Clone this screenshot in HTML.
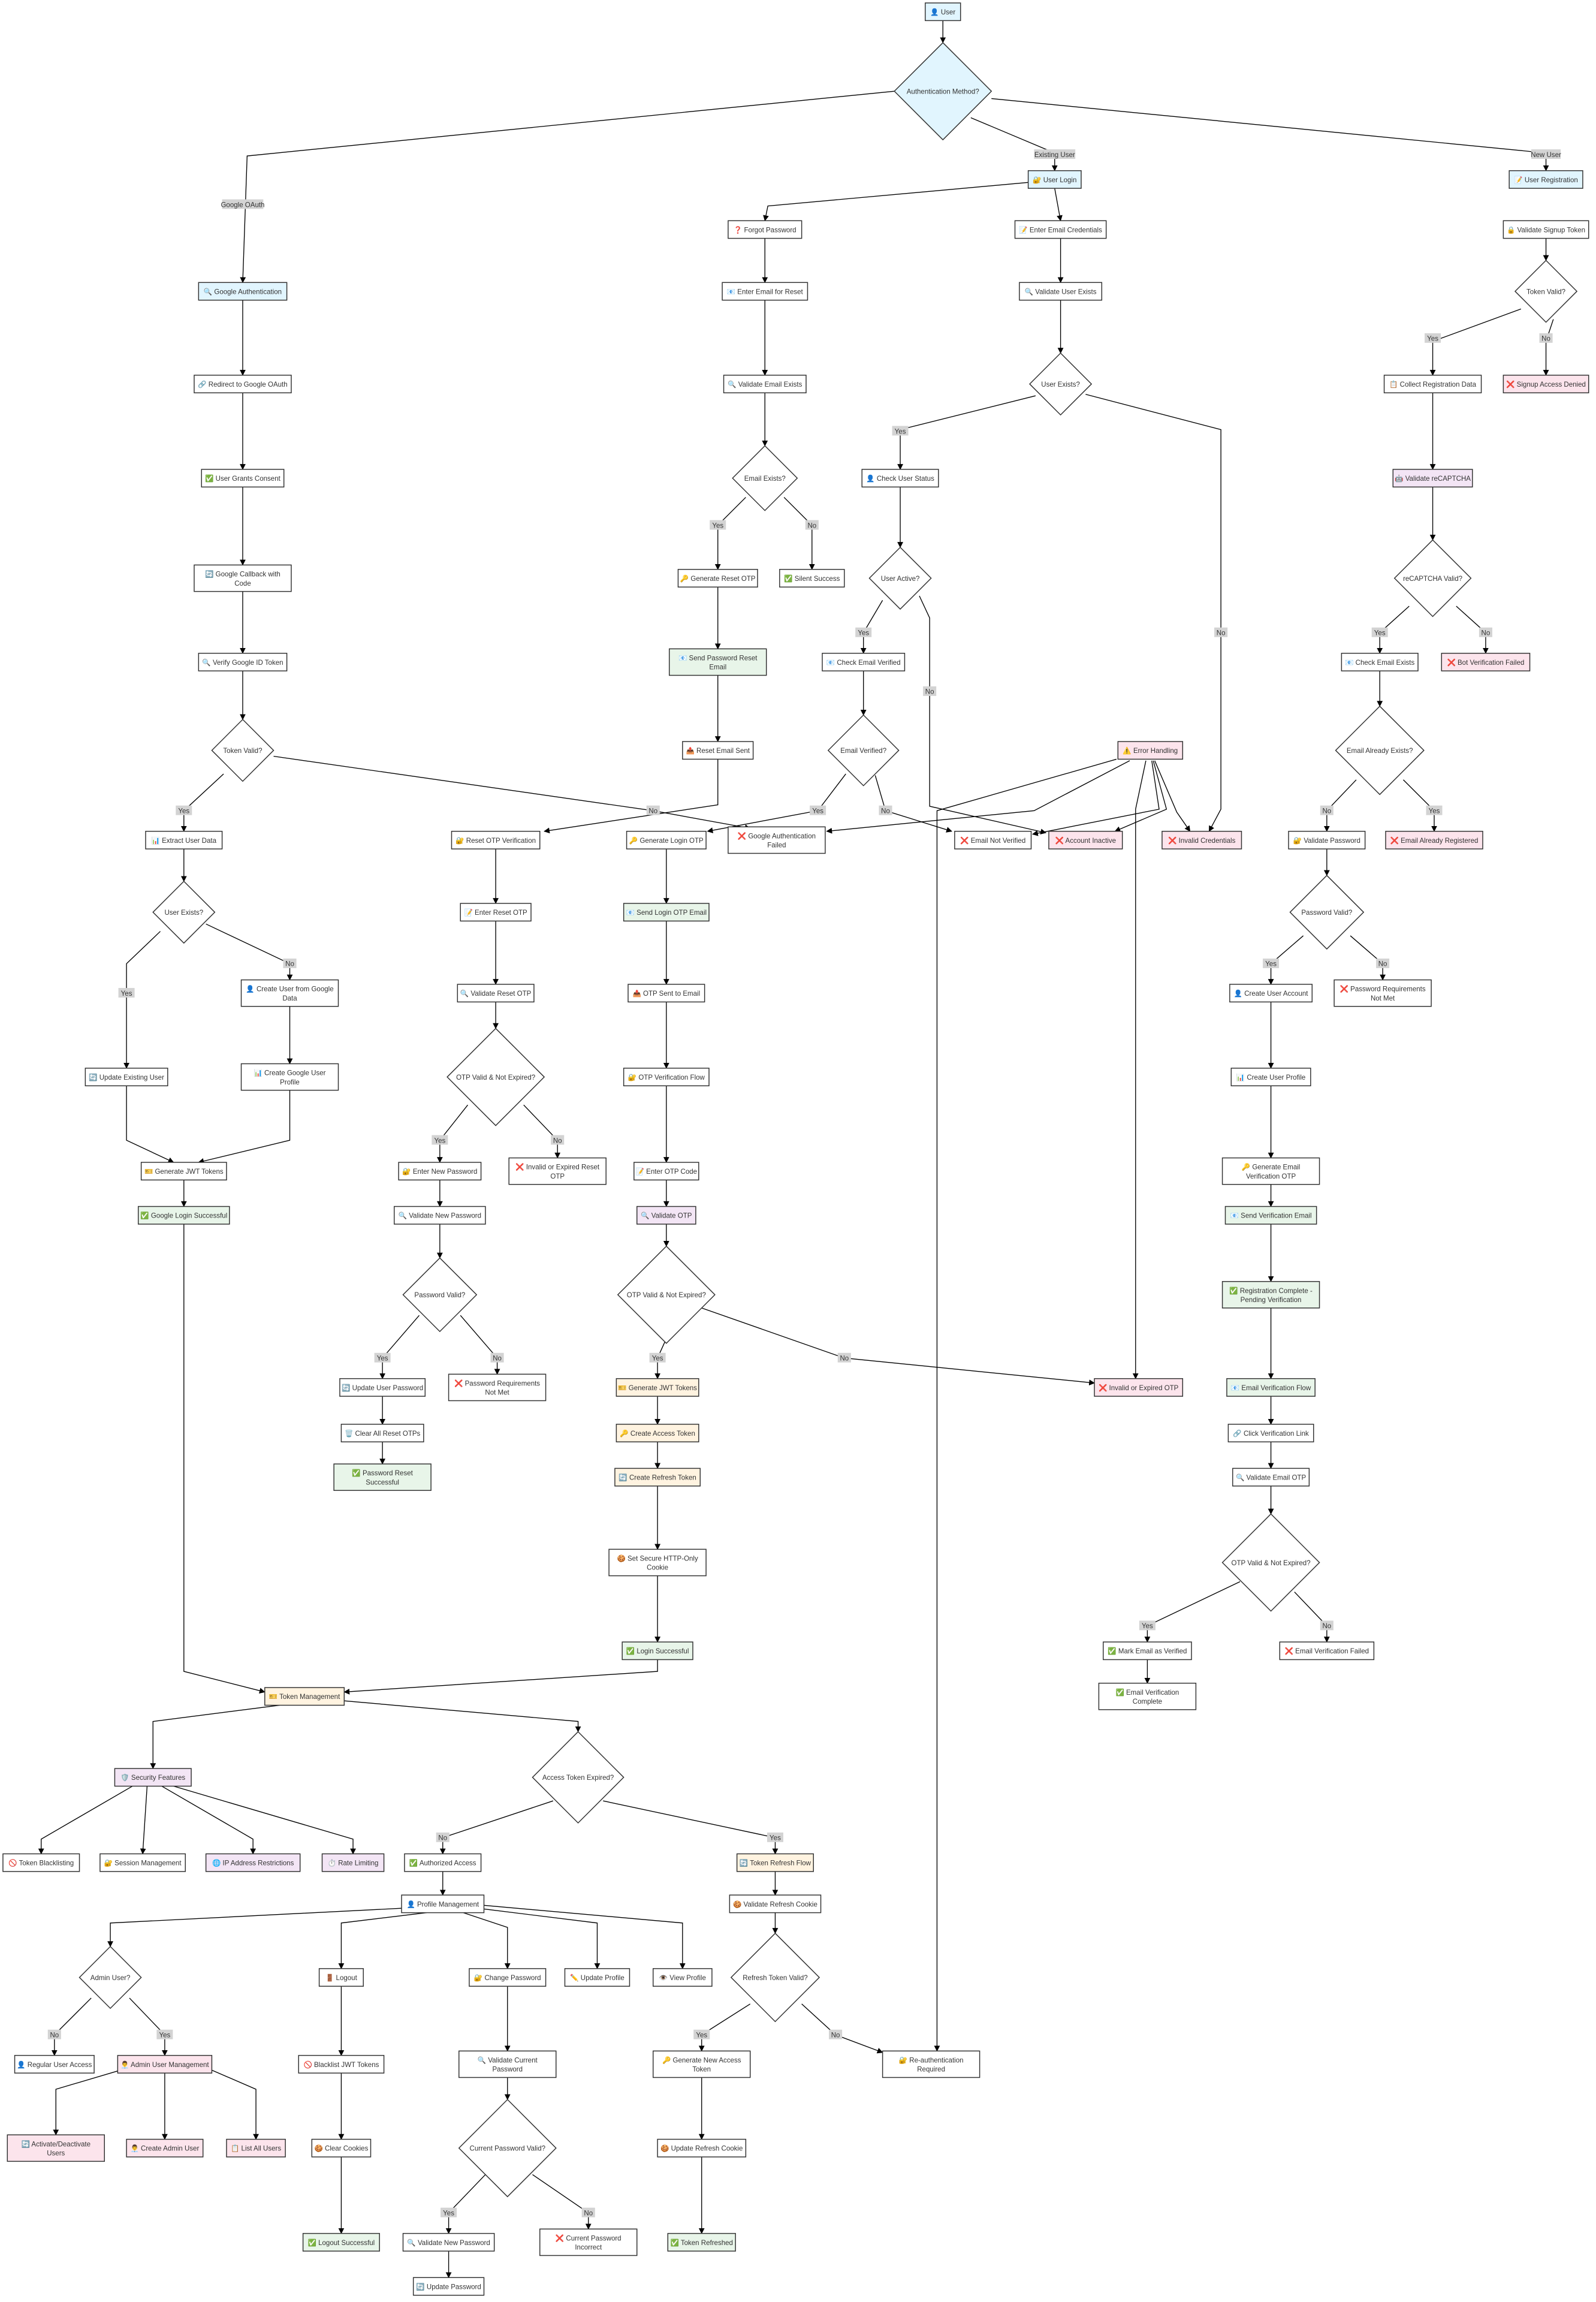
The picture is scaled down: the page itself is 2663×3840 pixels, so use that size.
<!DOCTYPE html>
<html><head><meta charset="utf-8"><style>
html,body{margin:0;padding:0;background:#fff}
svg{display:block}
rect,polygon{stroke:#333;stroke-width:.6;fill:#fff}
.b{fill:#e1f5fe}.g{fill:#e8f5e9}.o{fill:#fff3e0}.p{fill:#f3e5f5}.r{fill:#fce4ec}
text{font-family:"Liberation Sans","DejaVu Sans",sans-serif;font-size:4.7px;fill:#333;text-anchor:middle}
path{fill:none;stroke:#000;stroke-width:.55;marker-end:url(#a)}
.l{fill:#d3d3d3;stroke:none}
</style></head><body>
<svg width="2663" height="3840" viewBox="0 0 1085 1564.6" preserveAspectRatio="none" xmlns="http://www.w3.org/2000/svg">
<defs><marker id="a" markerUnits="userSpaceOnUse" markerWidth="4" markerHeight="4" refX="3.6" refY="2" orient="auto"><path d="M0,0L4,2L0,4z" style="fill:#000;stroke:none;marker-end:none"/></marker></defs>

<path d="M641,14V29"/>
<path d="M608,62L168,106L165,192"/>
<path d="M660,80L717,104V116"/>
<path d="M674,67L1051,104V116"/>
<path d="M699,124L522,140L520,150"/>
<path d="M717,128L721,150"/>
<path d="M520,162V192"/>
<path d="M721,162V192"/>
<path d="M520,204V255"/>
<path d="M721,204V240"/>
<path d="M1051,162V177"/>
<path d="M1034,210L974,232V255"/>
<path d="M1056,217L1051,232V255"/>
<path d="M165,204V255"/>
<path d="M165,267V319"/>
<path d="M520,267V303"/>
<path d="M704,269L612,292V319"/>
<path d="M738,268L830,292V550L822,565"/>
<path d="M974,267V319"/>
<path d="M165,331V384"/>
<path d="M507,338L488,357V387"/>
<path d="M533,338L552,357V387"/>
<path d="M612,331V372"/>
<path d="M974,331V367"/>
<path d="M165,402V444"/>
<path d="M488,399V441"/>
<path d="M600,408L587,430V444"/>
<path d="M625,405L632,420V548L711,566"/>
<path d="M958,412L938,430V444"/>
<path d="M990,412L1010,430V444"/>
<path d="M165,456V489"/>
<path d="M488,459V504"/>
<path d="M587,456V486"/>
<path d="M938,456V480"/>
<path d="M152,526L125,551V565"/>
<path d="M186,514L444,551L510,563"/>
<path d="M488,516V547L370,565"/>
<path d="M575,526L556,551L481,565"/>
<path d="M595,527L602,551L647,565"/>
<path d="M768,517L703,551L562,565"/>
<path d="M759,516L637,551V1394"/>
<path d="M779,517L772,550V937"/>
<path d="M783,517L788,550L702,567"/>
<path d="M784,517L793,550L758,565"/>
<path d="M785,517L800,552L809,565"/>
<path d="M922,530L902,551V565"/>
<path d="M954,530L975,551V565"/>
<path d="M125,577V599"/>
<path d="M109,633L86,655V726"/>
<path d="M140,628L197,655V666"/>
<path d="M197,684V723"/>
<path d="M86,738V775L118,790"/>
<path d="M197,741V775L135,790"/>
<path d="M125,802V820"/>
<path d="M125,832V1136L180,1150"/>
<path d="M337,577V614"/>
<path d="M337,626V669"/>
<path d="M337,681V699"/>
<path d="M318,751L299,775V790"/>
<path d="M356,751L379,775V787"/>
<path d="M299,802V820"/>
<path d="M299,832V855"/>
<path d="M285,894L260,923V937"/>
<path d="M313,894L338,923V934"/>
<path d="M260,949V968"/>
<path d="M260,980V995"/>
<path d="M453,577V614"/>
<path d="M453,626V669"/>
<path d="M453,681V726"/>
<path d="M453,738V790"/>
<path d="M453,802V820"/>
<path d="M453,832V847"/>
<path d="M452,912L447,923V937"/>
<path d="M477,889L574,923L744,940"/>
<path d="M447,949V968"/>
<path d="M447,980V998"/>
<path d="M447,1010V1053"/>
<path d="M447,1071V1116"/>
<path d="M447,1128V1136L234,1150"/>
<path d="M902,577V595"/>
<path d="M886,636L864,655V669"/>
<path d="M918,636L940,655V666"/>
<path d="M864,681V726"/>
<path d="M864,738V787"/>
<path d="M864,805V820"/>
<path d="M864,832V871"/>
<path d="M864,889V937"/>
<path d="M864,949V968"/>
<path d="M864,980V998"/>
<path d="M864,1010V1029"/>
<path d="M843,1075L780,1105V1116"/>
<path d="M880,1082L902,1105V1116"/>
<path d="M780,1128V1144"/>
<path d="M190,1159L104,1170V1202"/>
<path d="M234,1156L393,1170V1177"/>
<path d="M90,1214L28,1250V1260"/>
<path d="M100,1214L97,1260"/>
<path d="M110,1214L172,1250V1260"/>
<path d="M118,1214L240,1250V1260"/>
<path d="M376,1224L301,1249V1260"/>
<path d="M410,1224L527,1249V1260"/>
<path d="M301,1272V1288"/>
<path d="M273,1297L75,1307V1323"/>
<path d="M290,1300L232,1307V1338"/>
<path d="M315,1300L345,1310V1338"/>
<path d="M325,1297L406,1307V1338"/>
<path d="M329,1295L464,1307V1338"/>
<path d="M527,1272V1288"/>
<path d="M527,1300V1314"/>
<path d="M510,1362L477,1383V1394"/>
<path d="M545,1362L568,1383L600,1395"/>
<path d="M62,1358L37,1383V1397"/>
<path d="M88,1358L112,1383V1397"/>
<path d="M82,1407L38,1420V1451"/>
<path d="M112,1409V1454"/>
<path d="M144,1407L174,1420V1454"/>
<path d="M232,1350V1397"/>
<path d="M232,1409V1454"/>
<path d="M232,1466V1518"/>
<path d="M345,1350V1394"/>
<path d="M345,1412V1427"/>
<path d="M330,1478L305,1504V1518"/>
<path d="M362,1478L400,1504V1515"/>
<path d="M305,1530V1548"/>
<path d="M477,1412V1454"/>
<path d="M477,1466V1518"/>

<rect class="l" x="151" y="135.5" width="28" height="6.5"/><text x="165" y="140.7">Google OAuth</text>
<rect class="l" x="703" y="101.5" width="28" height="6.5"/><text x="717" y="106.7">Existing User</text>
<rect class="l" x="1041" y="101.5" width="20" height="6.5"/><text x="1051" y="106.7">New User</text>
<g>
<rect class="l" x="968.5" y="226.5" width="11" height="6.5"/><text x="974" y="231.7">Yes</text>
<rect class="l" x="1046.5" y="226.5" width="9" height="6.5"/><text x="1051" y="231.7">No</text>
<rect class="l" x="606.5" y="289.5" width="11" height="6.5"/><text x="612" y="294.7">Yes</text>
<rect class="l" x="825.5" y="426.5" width="9" height="6.5"/><text x="830" y="431.7">No</text>
<rect class="l" x="482.5" y="353.5" width="11" height="6.5"/><text x="488" y="358.7">Yes</text>
<rect class="l" x="547.5" y="353.5" width="9" height="6.5"/><text x="552" y="358.7">No</text>
<rect class="l" x="581.5" y="426.5" width="11" height="6.5"/><text x="587" y="431.7">Yes</text>
<rect class="l" x="627.5" y="466.5" width="9" height="6.5"/><text x="632" y="471.7">No</text>
<rect class="l" x="932.5" y="426.5" width="11" height="6.5"/><text x="938" y="431.7">Yes</text>
<rect class="l" x="1005.5" y="426.5" width="9" height="6.5"/><text x="1010" y="431.7">No</text>
<rect class="l" x="119.5" y="547.5" width="11" height="6.5"/><text x="125" y="552.7">Yes</text>
<rect class="l" x="439.5" y="547.5" width="9" height="6.5"/><text x="444" y="552.7">No</text>
<rect class="l" x="550.5" y="547.5" width="11" height="6.5"/><text x="556" y="552.7">Yes</text>
<rect class="l" x="597.5" y="547.5" width="9" height="6.5"/><text x="602" y="552.7">No</text>
<rect class="l" x="897.5" y="547.5" width="9" height="6.5"/><text x="902" y="552.7">No</text>
<rect class="l" x="969.5" y="547.5" width="11" height="6.5"/><text x="975" y="552.7">Yes</text>
<rect class="l" x="80.5" y="671.5" width="11" height="6.5"/><text x="86" y="676.7">Yes</text>
<rect class="l" x="192.5" y="651.5" width="9" height="6.5"/><text x="197" y="656.7">No</text>
<rect class="l" x="858.5" y="651.5" width="11" height="6.5"/><text x="864" y="656.7">Yes</text>
<rect class="l" x="935.5" y="651.5" width="9" height="6.5"/><text x="940" y="656.7">No</text>
<rect class="l" x="293.5" y="771.5" width="11" height="6.5"/><text x="299" y="776.7">Yes</text>
<rect class="l" x="374.5" y="771.5" width="9" height="6.5"/><text x="379" y="776.7">No</text>
<rect class="l" x="254.5" y="919.5" width="11" height="6.5"/><text x="260" y="924.7">Yes</text>
<rect class="l" x="333.5" y="919.5" width="9" height="6.5"/><text x="338" y="924.7">No</text>
<rect class="l" x="441.5" y="919.5" width="11" height="6.5"/><text x="447" y="924.7">Yes</text>
<rect class="l" x="569.5" y="919.5" width="9" height="6.5"/><text x="574" y="924.7">No</text>
<rect class="l" x="774.5" y="1101.5" width="11" height="6.5"/><text x="780" y="1106.7">Yes</text>
<rect class="l" x="897.5" y="1101.5" width="9" height="6.5"/><text x="902" y="1106.7">No</text>
<rect class="l" x="296.5" y="1245.5" width="9" height="6.5"/><text x="301" y="1250.7">No</text>
<rect class="l" x="521.5" y="1245.5" width="11" height="6.5"/><text x="527" y="1250.7">Yes</text>
<rect class="l" x="471.5" y="1379.5" width="11" height="6.5"/><text x="477" y="1384.7">Yes</text>
<rect class="l" x="563.5" y="1379.5" width="9" height="6.5"/><text x="568" y="1384.7">No</text>
<rect class="l" x="32.5" y="1379.5" width="9" height="6.5"/><text x="37" y="1384.7">No</text>
<rect class="l" x="106.5" y="1379.5" width="11" height="6.5"/><text x="112" y="1384.7">Yes</text>
<rect class="l" x="299.5" y="1500.5" width="11" height="6.5"/><text x="305" y="1505.7">Yes</text>
<rect class="l" x="395.5" y="1500.5" width="9" height="6.5"/><text x="400" y="1505.7">No</text>
</g>

<rect class="b" x="629" y="2" width="24" height="12"/><text x="641" y="9.8">👤 User</text>
<polygon class="b" points="641,29 674,62 641,95 608,62"/><text x="641" y="63.8">Authentication Method?</text>
<rect class="b" x="699" y="116" width="36" height="12"/><text x="717" y="123.8">🔐 User Login</text>
<rect class="b" x="1026" y="116" width="50" height="12"/><text x="1051" y="123.8">📝 User Registration</text>
<rect class="b" x="135" y="192" width="60" height="12"/><text x="165" y="199.8">🔍 Google Authentication</text>
<rect x="495" y="150" width="50" height="12"/><text x="520" y="157.8">❓ Forgot Password</text>
<rect x="690" y="150" width="62" height="12"/><text x="721" y="157.8">📝 Enter Email Credentials</text>
<rect x="1022" y="150" width="58" height="12"/><text x="1051" y="157.8">🔒 Validate Signup Token</text>
<rect x="491" y="192" width="58" height="12"/><text x="520" y="199.8">📧 Enter Email for Reset</text>
<rect x="693" y="192" width="56" height="12"/><text x="721" y="199.8">🔍 Validate User Exists</text>
<polygon points="1051,177 1072,198 1051,219 1030,198"/><text x="1051" y="199.8">Token Valid?</text>
<rect x="132" y="255" width="66" height="12"/><text x="165" y="262.8">🔗 Redirect to Google OAuth</text>
<rect x="492" y="255" width="56" height="12"/><text x="520" y="262.8">🔍 Validate Email Exists</text>
<polygon points="721,240 742,261 721,282 700,261"/><text x="721" y="262.8">User Exists?</text>
<rect x="941" y="255" width="66" height="12"/><text x="974" y="262.8">📋 Collect Registration Data</text>
<rect class="r" x="1022" y="255" width="58" height="12"/><text x="1051" y="262.8">❌ Signup Access Denied</text>
<rect x="137" y="319" width="56" height="12"/><text x="165" y="326.8">✅ User Grants Consent</text>
<polygon points="520,303 542,325 520,347 498,325"/><text x="520" y="326.8">Email Exists?</text>
<rect x="586" y="319" width="52" height="12"/><text x="612" y="326.8">👤 Check User Status</text>
<rect class="p" x="947" y="319" width="54" height="12"/><text x="974" y="326.8">🤖 Validate reCAPTCHA</text>
<rect x="132" y="384" width="66" height="18"/><text x="165" y="391.8">🔄 Google Callback with</text><text x="165" y="398">Code</text>
<rect x="461" y="387" width="54" height="12"/><text x="488" y="394.8">🔑 Generate Reset OTP</text>
<rect x="530" y="387" width="44" height="12"/><text x="552" y="394.8">✅ Silent Success</text>
<polygon points="612,372 633,393 612,414 591,393"/><text x="612" y="394.8">User Active?</text>
<polygon points="974,367 1000,393 974,419 948,393"/><text x="974" y="394.8">reCAPTCHA Valid?</text>
<rect x="135" y="444" width="60" height="12"/><text x="165" y="451.8">🔍 Verify Google ID Token</text>
<rect class="g" x="455" y="441" width="66" height="18"/><text x="488" y="448.8">📧 Send Password Reset</text><text x="488" y="455">Email</text>
<rect x="559" y="444" width="56" height="12"/><text x="587" y="451.8">📧 Check Email Verified</text>
<rect x="912" y="444" width="52" height="12"/><text x="938" y="451.8">📧 Check Email Exists</text>
<rect class="r" x="980" y="444" width="60" height="12"/><text x="1010" y="451.8">❌ Bot Verification Failed</text>
<polygon points="165,489 186,510 165,531 144,510"/><text x="165" y="511.8">Token Valid?</text>
<rect x="464" y="504" width="48" height="12"/><text x="488" y="511.8">📤 Reset Email Sent</text>
<polygon points="587,486 611,510 587,534 563,510"/><text x="587" y="511.8">Email Verified?</text>
<rect class="r" x="760" y="504" width="44" height="12"/><text x="782" y="511.8">⚠️ Error Handling</text>
<polygon points="938,480 968,510 938,540 908,510"/><text x="938" y="511.8">Email Already Exists?</text>
<rect x="99" y="565" width="52" height="12"/><text x="125" y="572.8">📊 Extract User Data</text>
<rect x="307" y="565" width="60" height="12"/><text x="337" y="572.8">🔐 Reset OTP Verification</text>
<rect x="426" y="565" width="54" height="12"/><text x="453" y="572.8">🔑 Generate Login OTP</text>
<rect x="495" y="562" width="66" height="18"/><text x="528" y="569.8">❌ Google Authentication</text><text x="528" y="576">Failed</text>
<rect x="649" y="565" width="52" height="12"/><text x="675" y="572.8">❌ Email Not Verified</text>
<rect class="r" x="713" y="565" width="50" height="12"/><text x="738" y="572.8">❌ Account Inactive</text>
<rect class="r" x="790" y="565" width="54" height="12"/><text x="817" y="572.8">❌ Invalid Credentials</text>
<rect x="876" y="565" width="52" height="12"/><text x="902" y="572.8">🔐 Validate Password</text>
<rect class="r" x="942" y="565" width="66" height="12"/><text x="975" y="572.8">❌ Email Already Registered</text>
<polygon points="125,599 146,620 125,641 104,620"/><text x="125" y="621.8">User Exists?</text>
<rect x="313" y="614" width="48" height="12"/><text x="337" y="621.8">📝 Enter Reset OTP</text>
<rect class="g" x="424" y="614" width="58" height="12"/><text x="453" y="621.8">📧 Send Login OTP Email</text>
<polygon points="902,595 927,620 902,645 877,620"/><text x="902" y="621.8">Password Valid?</text>
<rect x="164" y="666" width="66" height="18"/><text x="197" y="673.8">👤 Create User from Google</text><text x="197" y="680">Data</text>
<rect x="311" y="669" width="52" height="12"/><text x="337" y="676.8">🔍 Validate Reset OTP</text>
<rect x="427" y="669" width="52" height="12"/><text x="453" y="676.8">📤 OTP Sent to Email</text>
<rect x="836" y="669" width="56" height="12"/><text x="864" y="676.8">👤 Create User Account</text>
<rect x="907" y="666" width="66" height="18"/><text x="940" y="673.8">❌ Password Requirements</text><text x="940" y="680">Not Met</text>
<rect x="58" y="726" width="56" height="12"/><text x="86" y="733.8">🔄 Update Existing User</text>
<rect x="164" y="723" width="66" height="18"/><text x="197" y="730.8">📊 Create Google User</text><text x="197" y="737">Profile</text>
<polygon points="337,699 370,732 337,765 304,732"/><text x="337" y="733.8">OTP Valid &amp; Not Expired?</text>
<rect x="424" y="726" width="58" height="12"/><text x="453" y="733.8">🔐 OTP Verification Flow</text>
<rect x="837" y="726" width="54" height="12"/><text x="864" y="733.8">📊 Create User Profile</text>
<rect x="96" y="790" width="58" height="12"/><text x="125" y="797.8">🎫 Generate JWT Tokens</text>
<rect x="271" y="790" width="56" height="12"/><text x="299" y="797.8">🔐 Enter New Password</text>
<rect x="346" y="787" width="66" height="18"/><text x="379" y="794.8">❌ Invalid or Expired Reset</text><text x="379" y="801">OTP</text>
<rect x="431" y="790" width="44" height="12"/><text x="453" y="797.8">📝 Enter OTP Code</text>
<rect x="831" y="787" width="66" height="18"/><text x="864" y="794.8">🔑 Generate Email</text><text x="864" y="801">Verification OTP</text>
<rect class="g" x="94" y="820" width="62" height="12"/><text x="125" y="827.8">✅ Google Login Successful</text>
<rect x="268" y="820" width="62" height="12"/><text x="299" y="827.8">🔍 Validate New Password</text>
<rect class="p" x="433" y="820" width="40" height="12"/><text x="453" y="827.8">🔍 Validate OTP</text>
<rect class="g" x="833" y="820" width="62" height="12"/><text x="864" y="827.8">📧 Send Verification Email</text>
<polygon points="299,855 324,880 299,905 274,880"/><text x="299" y="881.8">Password Valid?</text>
<polygon points="453,847 486,880 453,913 420,880"/><text x="453" y="881.8">OTP Valid &amp; Not Expired?</text>
<rect class="g" x="831" y="871" width="66" height="18"/><text x="864" y="878.8">✅ Registration Complete -</text><text x="864" y="885">Pending Verification</text>
<rect x="231" y="937" width="58" height="12"/><text x="260" y="944.8">🔄 Update User Password</text>
<rect x="305" y="934" width="66" height="18"/><text x="338" y="941.8">❌ Password Requirements</text><text x="338" y="948">Not Met</text>
<rect class="o" x="419" y="937" width="56" height="12"/><text x="447" y="944.8">🎫 Generate JWT Tokens</text>
<rect class="r" x="744" y="937" width="60" height="12"/><text x="774" y="944.8">❌ Invalid or Expired OTP</text>
<rect class="g" x="834" y="937" width="60" height="12"/><text x="864" y="944.8">📧 Email Verification Flow</text>
<rect x="232" y="968" width="56" height="12"/><text x="260" y="975.8">🗑️ Clear All Reset OTPs</text>
<rect class="o" x="419" y="968" width="56" height="12"/><text x="447" y="975.8">🔑 Create Access Token</text>
<rect x="835" y="968" width="58" height="12"/><text x="864" y="975.8">🔗 Click Verification Link</text>
<rect class="g" x="227" y="995" width="66" height="18"/><text x="260" y="1002.8">✅ Password Reset</text><text x="260" y="1009">Successful</text>
<rect class="o" x="418" y="998" width="58" height="12"/><text x="447" y="1005.8">🔄 Create Refresh Token</text>
<rect x="838" y="998" width="52" height="12"/><text x="864" y="1005.8">🔍 Validate Email OTP</text>
<rect x="414" y="1053" width="66" height="18"/><text x="447" y="1060.8">🍪 Set Secure HTTP-Only</text><text x="447" y="1067">Cookie</text>
<polygon points="864,1029 897,1062 864,1095 831,1062"/><text x="864" y="1063.8">OTP Valid &amp; Not Expired?</text>
<rect class="g" x="423" y="1116" width="48" height="12"/><text x="447" y="1123.8">✅ Login Successful</text>
<rect x="750" y="1116" width="60" height="12"/><text x="780" y="1123.8">✅ Mark Email as Verified</text>
<rect x="870" y="1116" width="64" height="12"/><text x="902" y="1123.8">❌ Email Verification Failed</text>
<rect x="747" y="1144" width="66" height="18"/><text x="780" y="1151.8">✅ Email Verification</text><text x="780" y="1158">Complete</text>
<rect class="o" x="180" y="1147" width="54" height="12"/><text x="207" y="1154.8">🎫 Token Management</text>
<rect class="p" x="78" y="1202" width="52" height="12"/><text x="104" y="1209.8">🛡️ Security Features</text>
<polygon points="393,1177 424,1208 393,1239 362,1208"/><text x="393" y="1209.8">Access Token Expired?</text>
<rect x="2" y="1260" width="52" height="12"/><text x="28" y="1267.8">🚫 Token Blacklisting</text>
<rect x="68" y="1260" width="58" height="12"/><text x="97" y="1267.8">🔐 Session Management</text>
<rect class="p" x="140" y="1260" width="64" height="12"/><text x="172" y="1267.8">🌐 IP Address Restrictions</text>
<rect class="p" x="219" y="1260" width="42" height="12"/><text x="240" y="1267.8">⏱️ Rate Limiting</text>
<rect x="275" y="1260" width="52" height="12"/><text x="301" y="1267.8">✅ Authorized Access</text>
<rect class="o" x="501" y="1260" width="52" height="12"/><text x="527" y="1267.8">🔄 Token Refresh Flow</text>
<rect x="273" y="1288" width="56" height="12"/><text x="301" y="1295.8">👤 Profile Management</text>
<rect x="496" y="1288" width="62" height="12"/><text x="527" y="1295.8">🍪 Validate Refresh Cookie</text>
<polygon points="75,1323 96,1344 75,1365 54,1344"/><text x="75" y="1345.8">Admin User?</text>
<rect x="217" y="1338" width="30" height="12"/><text x="232" y="1345.8">🚪 Logout</text>
<rect x="319" y="1338" width="52" height="12"/><text x="345" y="1345.8">🔐 Change Password</text>
<rect x="384" y="1338" width="44" height="12"/><text x="406" y="1345.8">✏️ Update Profile</text>
<rect x="444" y="1338" width="40" height="12"/><text x="464" y="1345.8">👁️ View Profile</text>
<polygon points="527,1314 557,1344 527,1374 497,1344"/><text x="527" y="1345.8">Refresh Token Valid?</text>
<rect x="10" y="1397" width="54" height="12"/><text x="37" y="1404.8">👤 Regular User Access</text>
<rect class="r" x="80" y="1397" width="64" height="12"/><text x="112" y="1404.8">👨‍💼 Admin User Management</text>
<rect x="203" y="1397" width="58" height="12"/><text x="232" y="1404.8">🚫 Blacklist JWT Tokens</text>
<rect x="312" y="1394" width="66" height="18"/><text x="345" y="1401.8">🔍 Validate Current</text><text x="345" y="1408">Password</text>
<rect x="444" y="1394" width="66" height="18"/><text x="477" y="1401.8">🔑 Generate New Access</text><text x="477" y="1408">Token</text>
<rect x="600" y="1394" width="66" height="18"/><text x="633" y="1401.8">🔐 Re-authentication</text><text x="633" y="1408">Required</text>
<polygon points="345,1427 378,1460 345,1493 312,1460"/><text x="345" y="1461.8">Current Password Valid?</text>
<rect class="r" x="5" y="1451" width="66" height="18"/><text x="38" y="1458.8">🔄 Activate/Deactivate</text><text x="38" y="1465">Users</text>
<rect class="r" x="86" y="1454" width="52" height="12"/><text x="112" y="1461.8">👨‍💼 Create Admin User</text>
<rect class="r" x="154" y="1454" width="40" height="12"/><text x="174" y="1461.8">📋 List All Users</text>
<rect x="212" y="1454" width="40" height="12"/><text x="232" y="1461.8">🍪 Clear Cookies</text>
<rect x="447" y="1454" width="60" height="12"/><text x="477" y="1461.8">🍪 Update Refresh Cookie</text>
<rect class="g" x="206" y="1518" width="52" height="12"/><text x="232" y="1525.8">✅ Logout Successful</text>
<rect x="274" y="1518" width="62" height="12"/><text x="305" y="1525.8">🔍 Validate New Password</text>
<rect x="367" y="1515" width="66" height="18"/><text x="400" y="1522.8">❌ Current Password</text><text x="400" y="1529">Incorrect</text>
<rect class="g" x="454" y="1518" width="46" height="12"/><text x="477" y="1525.8">✅ Token Refreshed</text>
<rect x="281" y="1548" width="48" height="12"/><text x="305" y="1555.8">🔄 Update Password</text>
</svg>
</body></html>
